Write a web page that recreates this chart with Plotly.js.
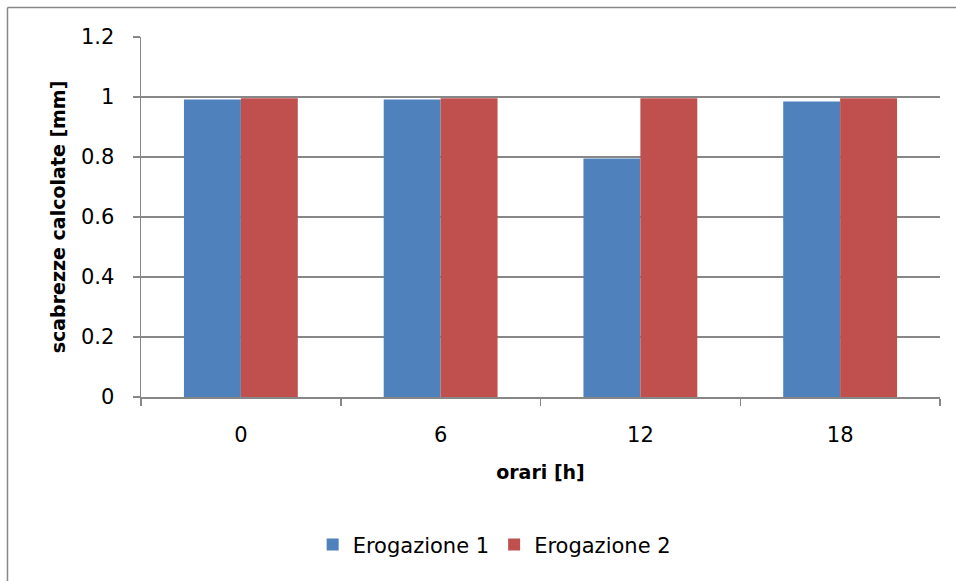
<!DOCTYPE html>
<html>
<head>
<meta charset="utf-8">
<script src="https://cdn.plot.ly/plotly-3.0.1.min.js"></script>
<style>html,body{margin:0;padding:0;background:#fff;}#chart{width:956px;height:581px;}</style>
</head>
<body>
<div id="chart"></div>
<script>
const categories = ["0", "6", "12", "18"];
const erogazione1 = [0.992, 0.992, 0.795, 0.985];
const erogazione2 = [0.996, 0.996, 0.996, 0.996];
const seriesNames = ["Erogazione 1", "Erogazione 2"];
const yTicks = [0, 0.2, 0.4, 0.6, 0.8, 1, 1.2];

const FONT = "'DejaVu Sans', sans-serif";
const GRID = "#878787";

const traces = [
  {type: "bar", name: seriesNames[0], x: categories, y: erogazione1, marker: {color: "#4F81BD"}},
  {type: "bar", name: seriesNames[1], x: categories, y: erogazione2, marker: {color: "#C0504D"}}
];

const layout = {
  width: 956, height: 581,
  margin: {l: 141, r: 16, t: 37, b: 184},
  paper_bgcolor: "#ffffff", plot_bgcolor: "#ffffff",
  font: {family: FONT, size: 21, color: "#000000"},
  barmode: "group", bargap: 0.43, bargroupgap: 0,
  xaxis: {
    type: "category", categoryorder: "array", categoryarray: categories,
    showline: true, linecolor: GRID, linewidth: 1.5,
    ticks: "outside", tickson: "boundaries", ticklen: 7, tickcolor: GRID, tickwidth: 1.5,
    ticklabelstandoff: 18,
    tickfont: {family: FONT, size: 21},
    showgrid: false, zeroline: false,
    title: {text: "<b>orari [h]</b>", font: {family: FONT, size: 19}, standoff: 20}
  },
  yaxis: {
    range: [0, 1.2], tickvals: yTicks, ticktext: yTicks.map(String),
    showline: true, linecolor: GRID, linewidth: 1.5,
    ticks: "outside", ticklen: 7, tickcolor: GRID, tickwidth: 1.5,
    ticklabelstandoff: 14,
    tickfont: {family: FONT, size: 21},
    showgrid: true, gridcolor: GRID, gridwidth: 1.5, zeroline: false,
    title: {text: "<b>scabrezze calcolate [mm]</b>", font: {family: FONT, size: 19}, standoff: 10}
  },
  showlegend: true,
  legend: {
    orientation: "h", x: 0.442, xanchor: "center", y: -0.411, yanchor: "middle",
    font: {family: FONT, size: 21}, itemwidth: 30, traceorder: "normal"
  },
  shapes: [
    {type: "line", xref: "paper", yref: "paper", x0: -0.1671, x1: 1.05, y0: 1.0819, y1: 1.0819, line: {color: GRID, width: 1.5}},
    {type: "line", xref: "paper", yref: "paper", x0: -0.1671, x1: -0.1671, y0: 1.0819, y1: -0.55, line: {color: GRID, width: 1.5}}
  ]
};

Plotly.newPlot("chart", traces, layout, {displayModeBar: false, staticPlot: true});
</script>
</body>
</html>
